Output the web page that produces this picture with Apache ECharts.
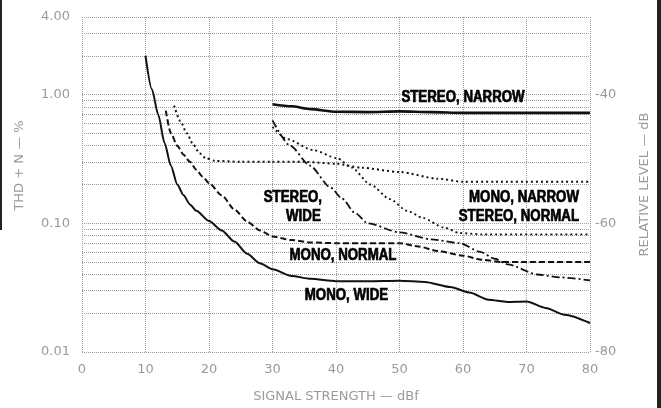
<!DOCTYPE html>
<html><head><meta charset="utf-8">
<script src="https://cdn.jsdelivr.net/npm/echarts@6/dist/echarts.min.js"></script>
<style>html,body{margin:0;padding:0;background:#fff}#c{width:661px;height:408px}</style>
</head><body><div id="c"></div>
<script>
// ---- data ----
const X_TICKS = [0, 10, 20, 30, 40, 50, 60, 70, 80];
const Y_LABELS = ['0.01', '0.10', '1.00', '4.00'];
const RIGHT_LABELS = ['-80', '-60', '-40'];
const MINOR_GRID = [0.02, 0.03, 0.04, 0.05, 0.06, 0.07, 0.08, 0.09, 0.2, 0.3, 0.4, 0.5, 0.6, 0.7, 0.8, 0.9, 2, 3];

const stereoNarrow = [[30,0.84],[33,0.81],[36,0.77],[40,0.735],[45,0.73],[50,0.74],[55,0.73],[60,0.72],[70,0.72],[80,0.72]];
const monoNarrow = [[14.5,0.82],[15.5,0.62],[16.5,0.5],[17.5,0.41],[18.5,0.35],[19.5,0.32],[21,0.305],[25,0.30],[30,0.30],[35,0.30],[40,0.29],[44,0.27],[50,0.25],[56,0.222],[60,0.21],[65,0.21],[80,0.21]];
const stereoNormal = [[30,0.56],[32.3,0.45],[36.4,0.37],[40.2,0.32],[42.5,0.27],[45.4,0.20],[48.5,0.154],[51.2,0.125],[53.7,0.11],[56.9,0.093],[59.5,0.084],[63,0.082],[80,0.082]];
const stereoWide = [[30,0.63],[32.8,0.40],[35.9,0.28],[39.1,0.19],[41,0.155],[43,0.12],[45,0.10],[50,0.085],[55,0.075],[59.5,0.070],[62.7,0.060],[65,0.053],[67,0.048],[71.7,0.040],[75.3,0.038],[80,0.036]];
const monoNormal = [[13.2,0.75],[14,0.5],[15,0.4],[16,0.34],[17,0.3],[18,0.26],[19,0.23],[20,0.205],[22,0.165],[24,0.128],[26,0.103],[28,0.088],[30,0.079],[33,0.074],[36,0.071],[40,0.070],[45,0.070],[50,0.070],[53,0.066],[56,0.061],[60,0.056],[63,0.052],[66,0.050],[70,0.050],[80,0.050]];
const monoWide = [[10,2.0],[11,1.1],[12,0.7],[13,0.42],[14,0.28],[15,0.2],[16,0.165],[17,0.14],[18,0.125],[20,0.104],[22,0.088],[24,0.072],[26,0.058],[28,0.049],[30,0.044],[33,0.039],[36,0.037],[40,0.0355],[45,0.0355],[50,0.0358],[54,0.035],[58,0.032],[61,0.029],[64,0.0255],[67,0.0245],[70,0.0247],[73,0.022],[76,0.0195],[80,0.0168]];

const CURVE_LABELS = [
  {text: 'STEREO, NARROW', at: [60, 0.94], align: 'center'},
  {text: 'MONO, NARROW', at: [69.6, 0.159], align: 'center'},
  {text: 'STEREO, NORMAL', at: [68.8, 0.112], align: 'center'},
  {text: 'STEREO,', at: [37.8, 0.159], align: 'right'},
  {text: 'WIDE', at: [37.6, 0.112], align: 'right'},
  {text: 'MONO, NORMAL', at: [41.1, 0.0556], align: 'center'},
  {text: 'MONO, WIDE', at: [41.65, 0.0275], align: 'center'}
];

const INK = '#111';
const GRID_C = '#9c9c9c';
const TICK_C = '#9a9a9a';
const TICK_FONT = 'DejaVu Sans';

function line(name, data, type, width) {
  return {
    name, type: 'line', data, xAxisIndex: 0, yAxisIndex: 0,
    symbol: 'none', smooth: 0.25, smoothMonotone: 'x',
    lineStyle: {color: INK, width, type}, silent: true, z: 5
  };
}

const chart = echarts.init(document.getElementById('c'), null, {renderer: 'canvas'});
const yMaxLog = Math.log10(4);

chart.setOption({
  animation: false,
  backgroundColor: '#fff',
  grid: {left: 82, right: 71, top: 17, bottom: 49},
  xAxis: {
    type: 'value', min: 0, max: 80, interval: 10,
    name: 'SIGNAL STRENGTH — dBf', nameLocation: 'middle', nameGap: 38,
    nameTextStyle: {fontFamily: TICK_FONT, fontSize: 13, color: TICK_C},
    axisLine: {show: false}, axisTick: {show: false},
    axisLabel: {fontFamily: TICK_FONT, fontSize: 13, color: TICK_C, margin: 11},
    splitLine: {show: true, lineStyle: {color: GRID_C, type: 'dotted', width: 1}}
  },
  yAxis: [{
    type: 'log', logBase: 10, min: 0.01, max: 4,
    name: 'THD + N — %', nameLocation: 'middle', nameGap: 56, nameRotate: 90,
    nameTextStyle: {fontFamily: TICK_FONT, fontSize: 13, color: TICK_C, padding: [0, 0, 0, 38]},
    axisLine: {show: false}, axisTick: {show: false},
    axisLabel: {fontFamily: TICK_FONT, fontSize: 13, color: TICK_C, margin: 12,
      formatter: v => { const s = Number(v).toFixed(2); return Y_LABELS.includes(s) ? s : ''; }},
    splitLine: {show: true, lineStyle: {color: GRID_C, type: 'dotted', width: 1}}
  }, {
    type: 'value', position: 'right', min: -80, max: 20 * yMaxLog - 40, interval: 20,
    name: 'RELATIVE LEVEL — dB', nameLocation: 'middle', nameGap: 48, nameRotate: 90,
    nameTextStyle: {fontFamily: TICK_FONT, fontSize: 13, color: TICK_C},
    axisLine: {show: false}, axisTick: {show: false},
    axisLabel: {fontFamily: TICK_FONT, fontSize: 13, color: TICK_C, margin: 5,
      formatter: v => RIGHT_LABELS.includes(String(Math.round(v))) && Math.abs(v - Math.round(v)) < 1e-6 ? String(Math.round(v)) : ''},
    splitLine: {show: false}
  }],
  series: [
    Object.assign(line('minor-grid', [], 'solid', 0), {
      markLine: {
        silent: true, symbol: ['none', 'none'], label: {show: false},
        lineStyle: {color: GRID_C, type: 'dotted', width: 1},
        data: MINOR_GRID.map(v => ({yAxis: v}))
      }, z: 1
    }),
    line('STEREO, NARROW', stereoNarrow, 'solid', 2.6),
    line('MONO, NARROW', monoNarrow, [2, 3], 2),
    line('STEREO, NORMAL', stereoNormal, [2, 3], 1.8),
    line('STEREO, WIDE', stereoWide, [8, 3, 2, 3], 1.8),
    line('MONO, NORMAL', monoNormal, [6, 3], 2),
    line('MONO, WIDE', monoWide, 'solid', 2)
  ]
});

// curve annotations anchored in data space
const g = CURVE_LABELS.map(l => {
  const p = chart.convertToPixel({gridIndex: 0}, l.at);
  return {
    type: 'text', x: p[0], y: p[1], z: 10, silent: true, scaleX: 0.83,
    style: {text: l.text, fill: '#000', stroke: '#000', lineWidth: 0.7,
      font: 'bold 16px "Liberation Sans", Arial, sans-serif', align: l.align, verticalAlign: 'middle'}
  };
});
g.push({type: 'rect', shape: {x: 0, y: 0, width: 2, height: 230}, style: {fill: '#222'}, silent: true});
g.push({type: 'rect', shape: {x: 657, y: 0, width: 4, height: 408}, style: {fill: '#222'}, silent: true});
chart.setOption({graphic: g});
</script>
</body></html>
